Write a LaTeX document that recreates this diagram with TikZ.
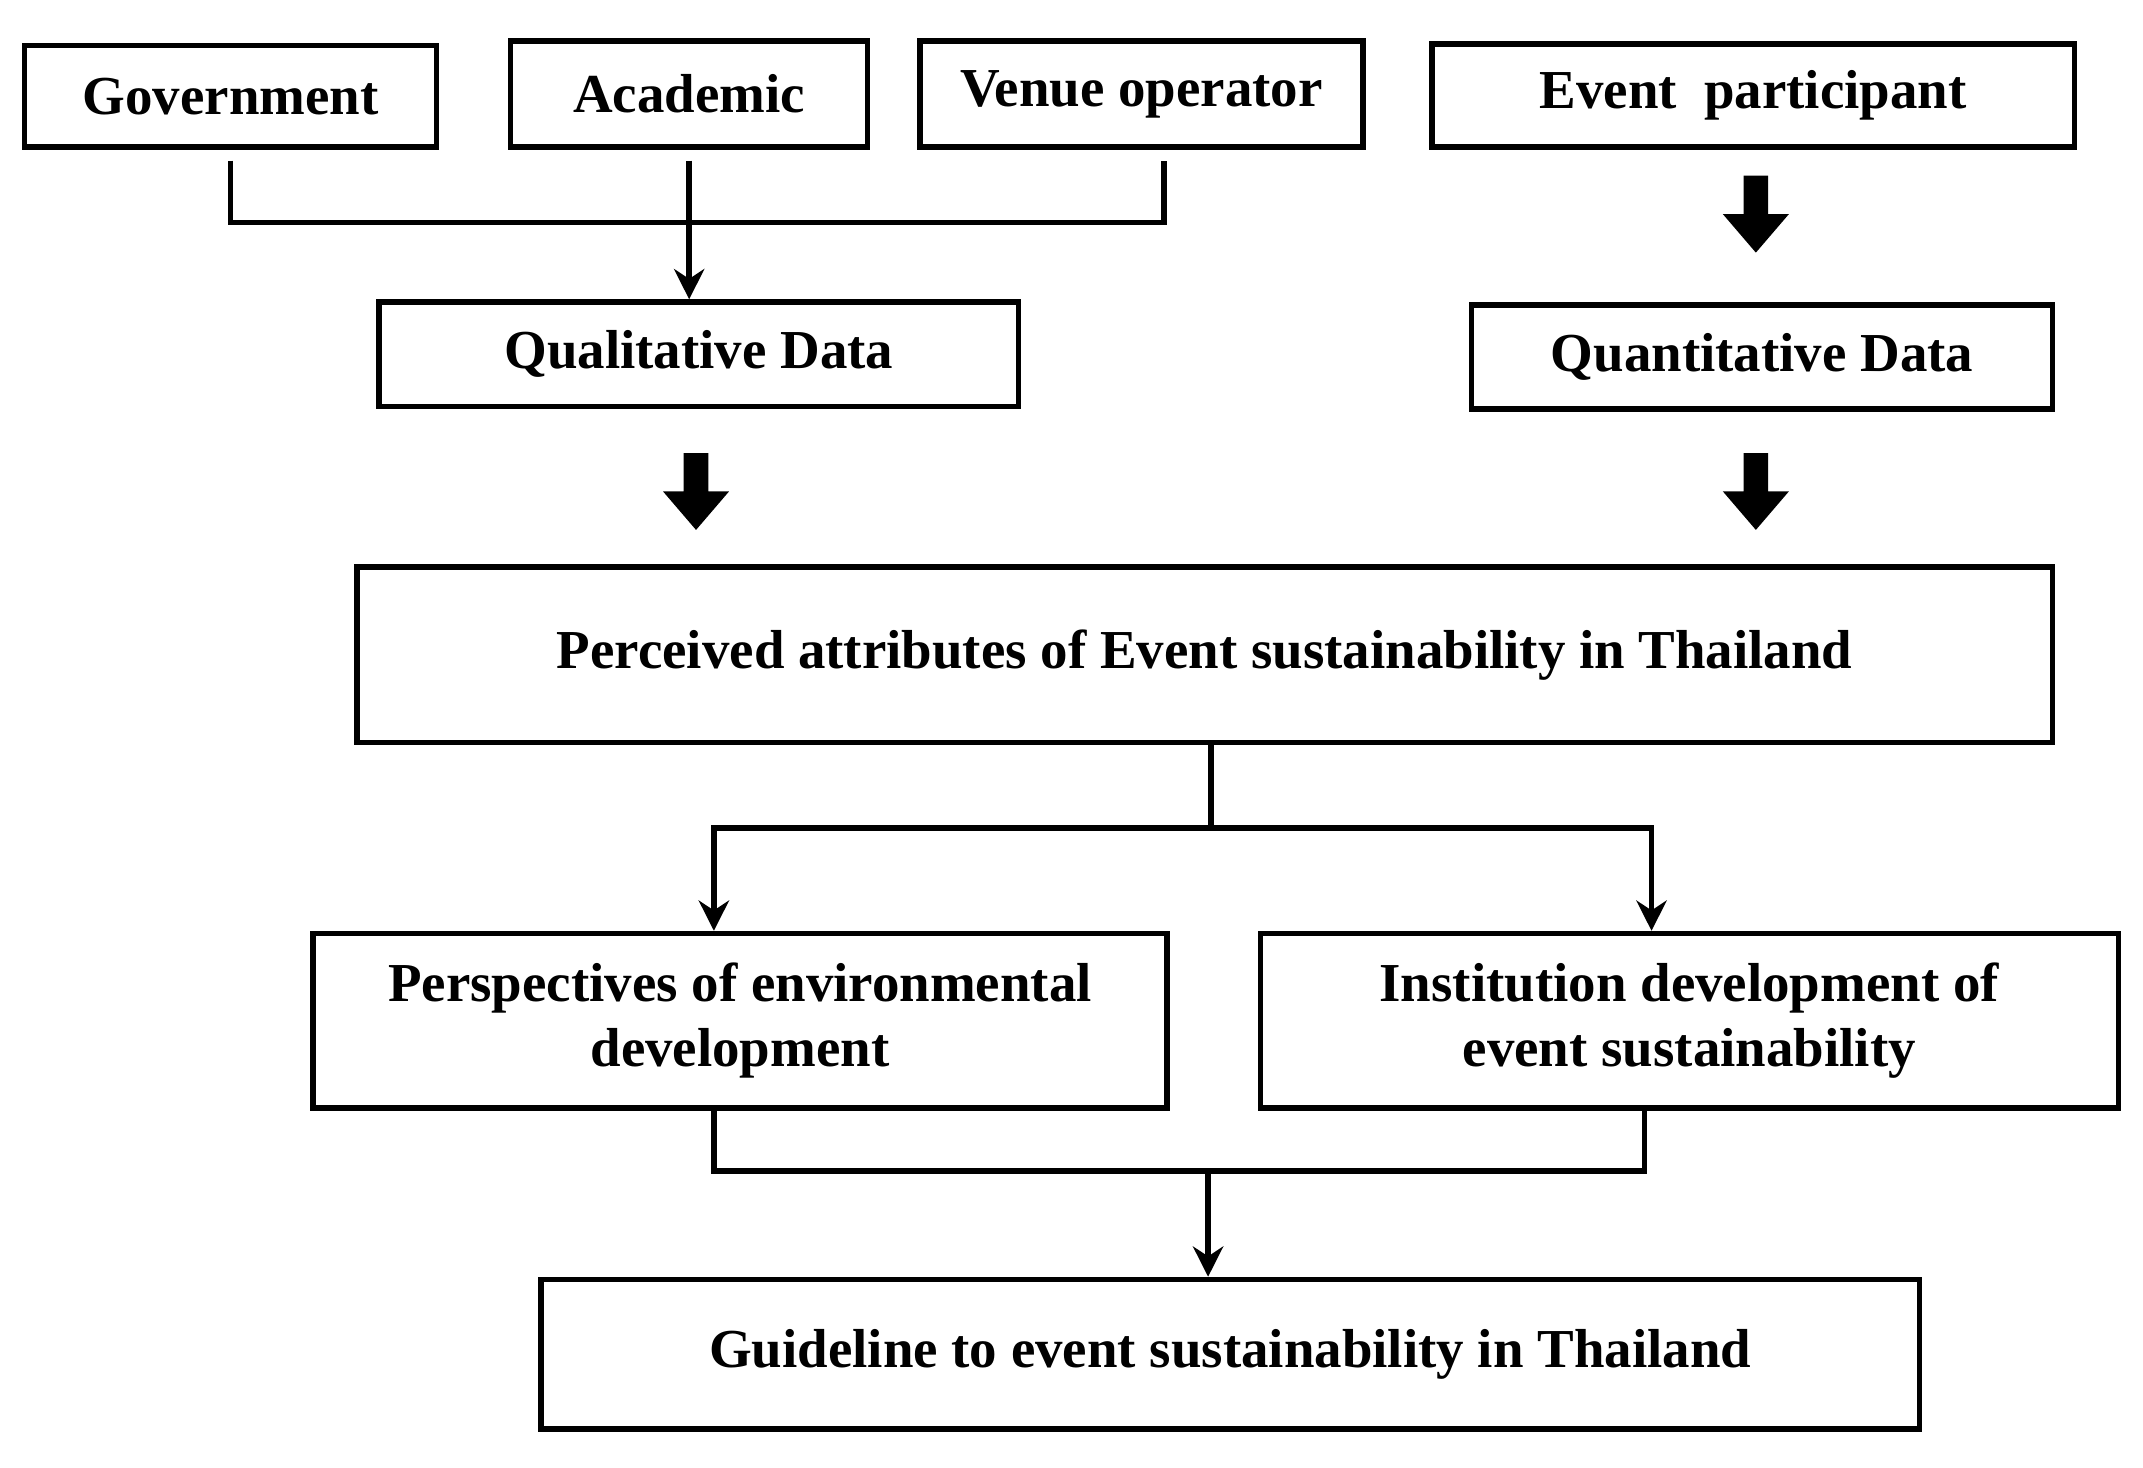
\documentclass[tikz,border=0pt]{standalone}
\usepackage{fontspec}
\setmainfont{Liberation Serif}
\usetikzlibrary{arrows.meta}
\begin{document}
\begin{tikzpicture}[x=1pt,y=-1pt,
 box/.style={draw,line width=4pt,inner sep=0pt,font=\fontsize{40}{47}\selectfont\bfseries,align=center},
 con/.style={line width=4pt},
 arr/.style={line width=4pt,-{Stealth[length=22pt,width=22pt]}},
 pics/barrow/.style={code={\fill (-9,0)--(9,0)--(9,28)--(24,28)--(0,56)--(-24,28)--(-9,28)--cycle;}}]
\useasboundingbox (0,0) rectangle (1561,1069);
\newcommand{\bx}[6]{\node[box,minimum width=#4-#2,minimum height=#5-#3] (#1) at ({(#2+#4)/2},{(#3+#5)/2}) {#6};}
\bx{gov}{18}{33}{318}{107}{Government}
\bx{aca}{372}{30}{632}{107}{Academic}
\bx{ven}{670}{30}{993}{107}{Venue operator}
\bx{evt}{1043}{32}{1511}{107}{Event\ \ participant}
\bx{qual}{276}{220}{742}{296}{Qualitative Data}
\bx{quan}{1072}{222}{1495}{298}{Quantitative Data}
\bx{per}{260}{413}{1495}{541}{Perceived attributes of Event sustainability in Thailand}
\bx{env}{228}{680}{850}{807}{Perspectives of environmental\\development}
\bx{ins}{918}{680}{1543}{807}{Institution development of\\event sustainability}
\bx{gui}{394}{932}{1398}{1041}{Guideline to event sustainability in Thailand}
\coordinate (j1) at (502,162);
\draw[con] (168,117) |- (j1) -| (848,117);
\draw[arr] (502,117) -- (qual.north -| 502,0);
\pic at (1279,128) {barrow};
\pic at (507,330) {barrow};
\pic at (1279,330) {barrow};
\coordinate (j2) at (882,603);
\draw[con] (per.south -| j2) -- (j2);
\draw[arr] (j2) -| (env.north -| 520,0);
\draw[arr] (j2) -| (ins.north -| 1203,0);
\coordinate (j3) at (880,853);
\draw[con] (env.south -| 520,0) |- (j3) -| (ins.south -| 1198,0);
\draw[arr] (j3) -- (gui.north -| j3);
\end{tikzpicture}
\end{document}
